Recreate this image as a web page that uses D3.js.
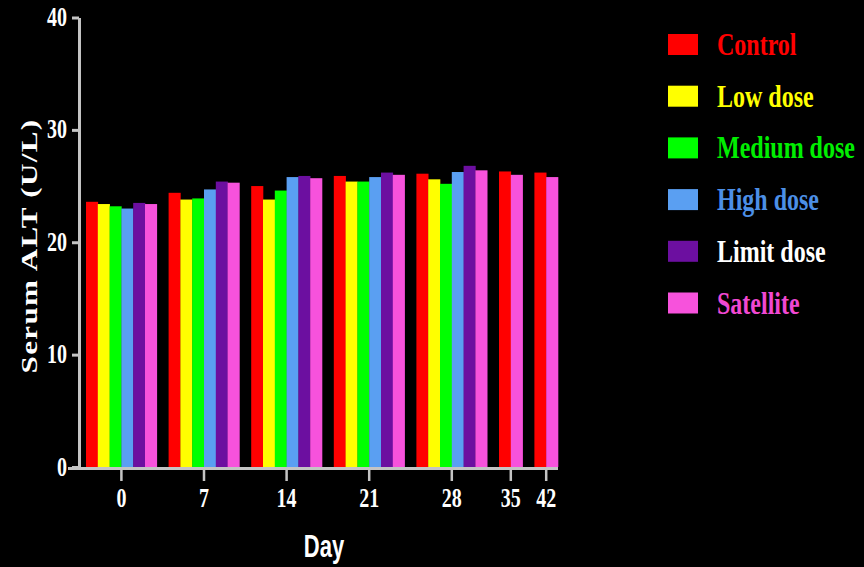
<!DOCTYPE html>
<html><head><meta charset="utf-8">
<script src="https://cdn.jsdelivr.net/npm/d3@7"></script>
<style>html,body{margin:0;padding:0;background:#000;}svg{display:block;}</style>
</head><body>
<script>
const days = ["0","7","14","21","28","35","42"];
const seriesNames = ["Control","Low dose","Medium dose","High dose","Limit dose","Satellite"];
const control   = [23.6, 24.4, 25.0, 25.9, 26.1, 26.3, 26.2];
const lowDose   = [23.4, 23.8, 23.8, 25.4, 25.6, null, null];
const medDose   = [23.2, 23.9, 24.6, 25.4, 25.2, null, null];
const highDose  = [23.0, 24.7, 25.8, 25.8, 26.25, null, null];
const limitDose = [23.5, 25.4, 25.9, 26.2, 26.8, null, null];
const satellite = [23.4, 25.3, 25.7, 26.0, 26.4, 26.0, 25.8];
const yTicks = [0, 10, 20, 30, 40];

const seriesValues = [control, lowDose, medDose, highDose, limitDose, satellite];
const barColors = ["#ff0000","#ffff00","#00ff00","#5a9ff2","#6c0fa0","#f752dc"];
const textColors = ["#ff0000","#ffff00","#00ee00","#4c8fe6","#ffffff","#f048d2"];

const W = 864, H = 567, S = 1.35;
const svg = d3.select("body").append("svg").attr("width", W).attr("height", H)
  .style("background", "#000");

// slots
const slots = [];
const bars = [];
days.forEach((d, i) => {
  seriesValues.forEach((vals, s) => {
    if (vals[i] != null) {
      const key = d + "|" + s;
      slots.push(key);
      bars.push({day: d, s, v: vals[i], key});
    }
  });
  if (i < days.length - 1) slots.push("gap" + i);
});

const x = d3.scaleBand().domain(slots).range([86, 558]).padding(0);
const y = d3.scaleLinear().domain([0, 40]).range([467, 17.5]);

// bars
svg.append("g").selectAll("rect").data(bars).join("rect")
  .attr("x", d => x(d.key))
  .attr("y", d => y(d.v))
  .attr("width", x.bandwidth() + 0.3)
  .attr("height", d => y(0) - y(d.v))
  .attr("fill", d => barColors[d.s]);

const axisCol = "#c4c4c4";
const serif = "'Liberation Serif','Times New Roman',serif";

// y axis
const yAxis = svg.append("g").attr("transform", "translate(79,0)")
  .call(d3.axisLeft(y).tickValues(yTicks).tickSize(7).tickSizeOuter(0).tickPadding(5));
yAxis.select(".domain").attr("stroke", axisCol).attr("stroke-width", 3);
yAxis.selectAll(".tick line").attr("stroke", axisCol).attr("stroke-width", 3);
yAxis.selectAll(".tick text")
  .attr("fill", "#fff").attr("font-family", serif).attr("font-weight", "bold")
  .attr("font-size", 20).attr("transform", `scale(1,${S})`).attr("dy", "0.3em");

// x axis
const centers = days.map(d => {
  const g = bars.filter(b => b.day === d);
  const x0 = x(g[0].key), x1 = x(g[g.length - 1].key) + x.bandwidth();
  return {day: d, cx: (x0 + x1) / 2};
});
const xg = svg.append("g");
xg.append("line").attr("x1", 68).attr("x2", 558).attr("y1", 468.5).attr("y2", 468.5)
  .attr("stroke", axisCol).attr("stroke-width", 3);
const xt = xg.selectAll("g.tick").data(centers).join("g")
  .attr("transform", d => `translate(${d.cx},0)`);
xt.append("line").attr("y1", 468).attr("y2", 481).attr("stroke", axisCol).attr("stroke-width", 2.5);
xt.append("text").attr("transform", `translate(0,507) scale(1,${S})`)
  .attr("text-anchor", "middle").attr("fill", "#fff").attr("font-family", serif)
  .attr("font-weight", "bold").attr("font-size", 20).text(d => d.day);

// axis titles
svg.append("text").attr("transform", `translate(324,557) scale(1,1.42)`)
  .attr("text-anchor", "middle").attr("fill", "#fff")
  .attr("font-family", "'Liberation Sans',Arial,sans-serif").attr("font-weight", "bold")
  .attr("font-size", 22).text("Day");

svg.append("text").attr("transform", `translate(37,246) scale(1,${S}) rotate(-90)`)
  .attr("text-anchor", "middle").attr("fill", "#fff").attr("font-family", serif)
  .attr("font-weight", "bold").attr("font-size", 23).attr("letter-spacing", "1px")
  .text("Serum ALT (U/L)");

// legend
const leg = svg.append("g").selectAll("g").data(seriesNames).join("g")
  .attr("transform", (d, i) => `translate(668,${55 + i * 51.7})`);
leg.append("rect").attr("x", 0).attr("y", -21).attr("width", 30).attr("height", 21)
  .attr("fill", (d, i) => barColors[i]);
leg.append("text").attr("transform", `translate(49,0) scale(1,${S})`)
  .attr("fill", (d, i) => textColors[i]).attr("font-family", serif)
  .attr("font-weight", "bold").attr("font-size", 24).text(d => d);
</script>
</body></html>
